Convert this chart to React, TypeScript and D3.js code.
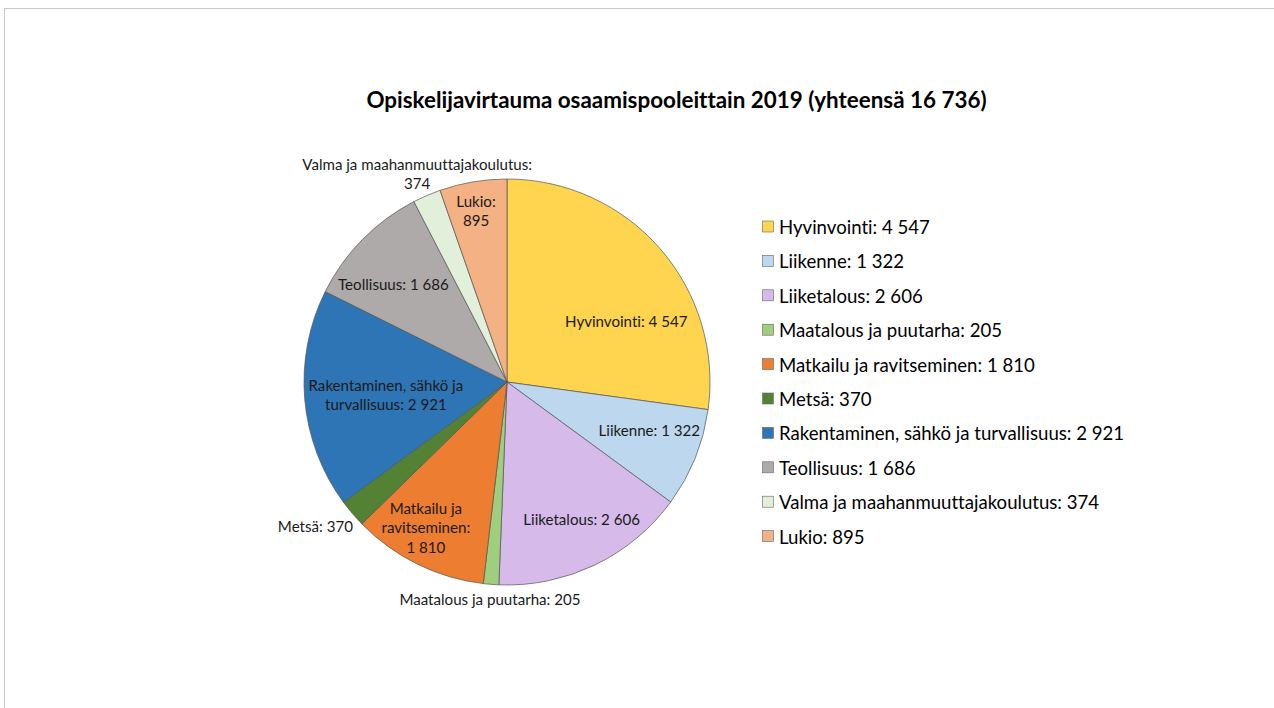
import React from 'react';
import * as d3 from 'd3';

const title = 'Opiskelijavirtauma osaamispooleittain 2019 (yhteensä 16 736)';

const categories = [
  'Hyvinvointi',
  'Liikenne',
  'Liiketalous',
  'Maatalous ja puutarha',
  'Matkailu ja ravitseminen',
  'Metsä',
  'Rakentaminen, sähkö ja turvallisuus',
  'Teollisuus',
  'Valma ja maahanmuuttajakoulutus',
  'Lukio',
];
const values = [4547, 1322, 2606, 205, 1810, 370, 2921, 1686, 374, 895];
const colors = [
  '#ffd44f', '#bdd7ee', '#d6bbea', '#9fce7e', '#ed7d31',
  '#548235', '#2e75b6', '#aeaaaa', '#e2efda', '#f4b183',
];
// data label lines as they wrap in the chart
const labelLines = [
  ['Hyvinvointi: 4 547'],
  ['Liikenne: 1 322'],
  ['Liiketalous: 2 606'],
  ['Maatalous ja puutarha: 205'],
  ['Matkailu ja', 'ravitseminen:', '1 810'],
  ['Metsä: 370'],
  ['Rakentaminen, sähkö ja', 'turvallisuus: 2 921'],
  ['Teollisuus: 1 686'],
  ['Valma ja maahanmuuttajakoulutus:', '374'],
  ['Lukio:', '895'],
];
// label placement: [angle shift in degrees, radius as share of pie radius]
const labelPlace = [
  [14, 0.66], [-3.4, 0.74], [-2.8, 0.77], [0, 1.07], [3, 0.82],
  [3.5, 1.18], [-1, 0.6], [-3.7, 0.74], [0, 1.12], [-0.6, 0.86],
];

const fmt = (v: number) => d3.format(',')(v).replace(/,/g, ' ');

export default function App() {
  const W = 1274, H = 708;
  const cx = 507, cy = 382, r = 203;
  const font = "Lato, 'Open Sans', sans-serif";
  const noLig = { fontVariantLigatures: 'none' as const };

  const pie = d3.pie<number>().sort(null).value(d => d);
  const arcs = pie(values);
  const arc = d3.arc<d3.PieArcDatum<number>>().innerRadius(0).outerRadius(r);

  const legendX = 762, legendY0 = 227, legendStep = 34.4;

  return (
    <svg width={W} height={H} style={{ position: 'absolute', left: 0, top: 0, display: 'block', background: '#fff' }}>
      <rect x={4.5} y={8.5} width={1290} height={720} fill="#fff" stroke="#c8c8c8" strokeWidth={1} />
      <text x={676.5} y={108} textAnchor="middle" fontFamily={font} fontWeight="bold" fontSize={22.4} fill="#000" style={noLig}>
        {title}
      </text>
      <g transform={`translate(${cx},${cy})`}>
        {arcs.map((a, i) => (
          <path key={i} d={arc(a) || ''} fill={colors[i]} stroke="#555" strokeWidth={0.7} />
        ))}
        {arcs.map((a, i) => {
          const mid = (a.startAngle + a.endAngle) / 2 + (labelPlace[i][0] * Math.PI) / 180;
          const rr = labelPlace[i][1] * r;
          const x = Math.sin(mid) * rr;
          const y = -Math.cos(mid) * rr;
          const lines = labelLines[i];
          const lh = 19.3;
          const top = y - ((lines.length - 1) * lh) / 2;
          return (
            <text key={i} textAnchor="middle" fontFamily={font} fontSize={15.1} fill="#1a1a1a" dominantBaseline="central" style={noLig}>
              {lines.map((l, j) => (
                <tspan key={j} x={x} y={top + j * lh}>{l}</tspan>
              ))}
            </text>
          );
        })}
      </g>
      <g>
        {categories.map((c, i) => (
          <g key={i} transform={`translate(${legendX},${legendY0 + i * legendStep})`}>
            <rect x={0.5} y={-6} width={11} height={11} fill={colors[i]} stroke="#666" strokeWidth={0.6} />
            <text x={17} y={0} dominantBaseline="central" fontFamily={font} fontSize={18.6} fill="#000" style={noLig}>
              {`${c}: ${fmt(values[i])}`}
            </text>
          </g>
        ))}
      </g>
    </svg>
  );
}
